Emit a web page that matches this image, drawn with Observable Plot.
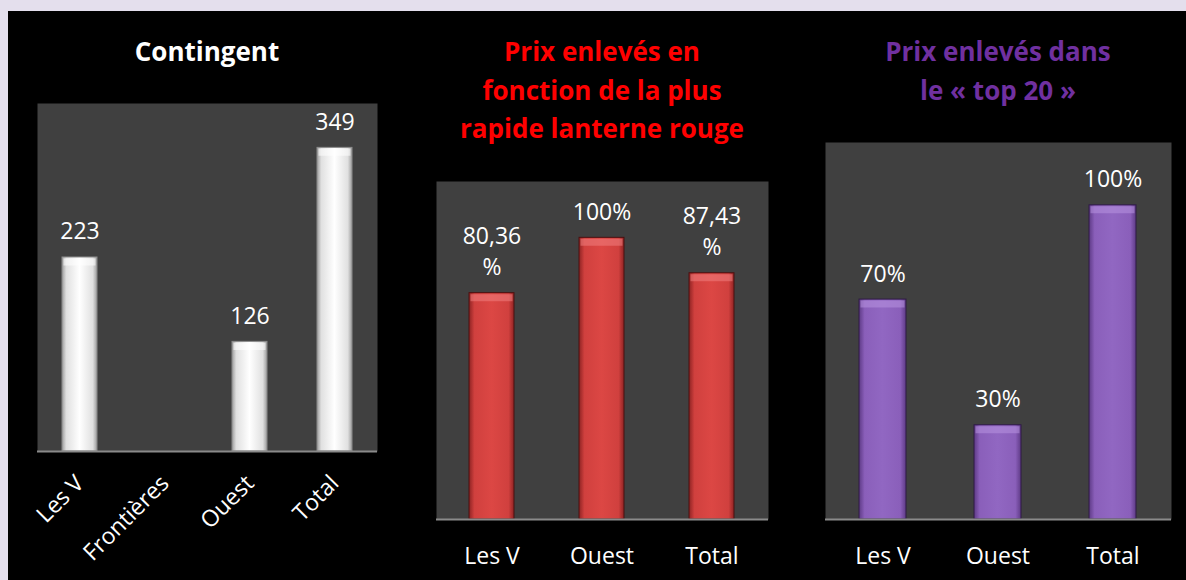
<!DOCTYPE html>
<html><head><meta charset="utf-8">
<script src="https://cdn.jsdelivr.net/npm/d3@7"></script>
<script src="https://cdn.jsdelivr.net/npm/@observablehq/plot@0.6"></script>
<style>
html,body{margin:0;padding:0;background:#e4dfed;}
#stage{position:relative;width:1186px;height:580px;overflow:hidden;}
#black{position:absolute;left:8px;top:11px;right:0;bottom:0;background:#000;}
.title{position:absolute;font-family:"Open Sans",sans-serif;font-weight:700;font-size:26px;line-height:38.5px;text-align:center;white-space:nowrap;transform:translateX(-50%);}
.panel{position:absolute;top:0;}
</style></head><body>
<div id="stage">
<div id="black"></div>
<div class="title" style="left:207px;top:32px;color:#ffffff">Contingent</div>
<div class="title" style="left:602px;top:32px;color:#ff0000">Prix enlevés en<br>fonction de la plus<br>rapide lanterne rouge</div>
<div class="title" style="left:998px;top:32px;color:#7030a0">Prix enlevés dans<br>le « top 20 »</div>
<div id="p1" class="panel" style="left:0px"></div>
<div id="p2" class="panel" style="left:410px"></div>
<div id="p3" class="panel" style="left:800px"></div>
</div>
<script>
// ---- data ----
const contingentCategories = ["Les V", "Frontières", "Ouest", "Total"];
const contingentValues = [223, null, 126, 349];
const contingentLabels = ["223", "", "126", "349"];

const lanterneCategories = ["Les V", "Ouest", "Total"];
const lanterneValues = [80.36, 100, 87.43];
const lanterneLabels = ["80,36\n%", "100%", "87,43\n%"];

const top20Categories = ["Les V", "Ouest", "Total"];
const top20Values = [70, 30, 100];
const top20Labels = ["70%", "30%", "100%"];

function addGradient(svg, id, edge, mid, light) {
  const defs = d3.select(svg).insert("defs", ":first-child");
  const g = defs.append("linearGradient").attr("id", id)
    .attr("x1", "0").attr("y1", "0").attr("x2", "1").attr("y2", "0");
  [[0, edge], [0.12, mid], [0.5, light], [0.88, mid], [1, edge]].forEach(([o, c]) =>
    g.append("stop").attr("offset", o).attr("stop-color", c));
}

function makePanel(el, cats, vals, labels, cfg) {
  const data = cats.map((c, i) => ({cat: c, value: vals[i], label: labels[i]}));
  const shown = data.filter(d => d.value != null);
  const svg = Plot.plot({
    width: cfg.width, height: 580,
    marginLeft: cfg.ml, marginRight: cfg.mr, marginTop: cfg.mt, marginBottom: cfg.mb,
    style: {fontFamily: "'Open Sans', sans-serif", fontSize: "23px", color: "#ffffff", background: "transparent", overflow: "visible"},
    x: {domain: cats, paddingInner: 0.59, paddingOuter: 0.295, label: null},
    y: {domain: cfg.ydomain, label: null},
    marks: [
      Plot.frame({fill: "#404040", stroke: null}),
      Plot.barY(shown, {x: "cat", y: "value", fill: `url(#${cfg.gid})`, stroke: cfg.stroke, strokeWidth: 1}),
      Plot.tickY(shown, {x: "cat", y: "value", stroke: cfg.bevel, strokeWidth: 7, dy: 4.5, insetLeft: 1.5, insetRight: 1.5, strokeOpacity: 0.55}),
      Plot.ruleY([0], {stroke: "#8a8a8a", strokeWidth: 2}),
      Plot.text(shown, {x: "cat", y: "value", text: "label", fill: "#ffffff", fontSize: 23, lineAnchor: "bottom", lineHeight: 1.35, dy: -18}),
      Plot.axisY({ticks: [], tickSize: 0, label: null}),
      cfg.rotate
        ? Plot.axisX({tickSize: 0, tickPadding: cfg.tp, tickRotate: -45, fontSize: 23, label: null})
        : Plot.axisX({tickSize: 0, tickPadding: cfg.tp, fontSize: 23, label: null})
    ]
  });
  addGradient(svg, cfg.gid, cfg.edge, cfg.mid, cfg.light);
  document.getElementById(el).appendChild(svg);
}

makePanel("p1", contingentCategories, contingentValues, contingentLabels, {
  width: 410, ml: 37, mr: 33, mt: 103, mb: 129, ydomain: [0, 400], rotate: true, tp: 28,
  gid: "gWhite", edge: "#9c9c9c", mid: "#e0e0e0", light: "#ffffff", stroke: "#8c8c8c", bevel: "#ffffff"
});
makePanel("p2", lanterneCategories, lanterneValues, lanterneLabels, {
  width: 400, ml: 26, mr: 42, mt: 181, mb: 61, ydomain: [0, 120], rotate: false, tp: 28,
  gid: "gRed", edge: "#8f2323", mid: "#d0403e", light: "#dc4744", stroke: "#4a1010", bevel: "#f08080"
});
makePanel("p3", top20Categories, top20Values, top20Labels, {
  width: 386, ml: 25, mr: 15, mt: 142, mb: 61, ydomain: [0, 120], rotate: false, tp: 28,
  gid: "gPurple", edge: "#5e3a86", mid: "#8a5fba", light: "#9167c2", stroke: "#2e1a44", bevel: "#b894e0"
});
</script>
</body></html>
